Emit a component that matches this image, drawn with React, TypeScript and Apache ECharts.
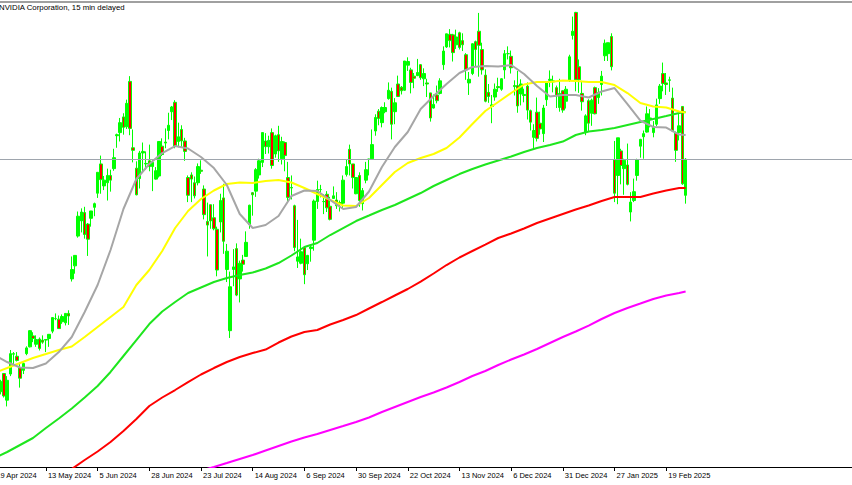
import React, { useEffect, useRef } from "react";
import * as echarts from "echarts";

// Trading days shown on the chart (month label, day numbers)
const tradingDays: [string, number[]][] = [
  ["Apr 2024", [19, 22, 23, 24, 25, 26, 29, 30]],
  ["May 2024", [1, 2, 3, 6, 7, 8, 9, 10, 13, 14, 15, 16, 17, 20, 21, 22, 23, 24, 28, 29, 30, 31]],
  ["Jun 2024", [3, 4, 5, 6, 7, 10, 11, 12, 13, 14, 17, 18, 20, 21, 24, 25, 26, 27, 28]],
  ["Jul 2024", [1, 2, 3, 5, 8, 9, 10, 11, 12, 15, 16, 17, 18, 19, 22, 23, 24, 25, 26, 29, 30, 31]],
  ["Aug 2024", [1, 2, 5, 6, 7, 8, 9, 12, 13, 14, 15, 16, 19, 20, 21, 22, 23, 26, 27, 28, 29, 30]],
  ["Sep 2024", [3, 4, 5, 6, 9, 10, 11, 12, 13, 16, 17, 18, 19, 20, 23, 24, 25, 26, 27, 30]],
  ["Oct 2024", [1, 2, 3, 4, 7, 8, 9, 10, 11, 14, 15, 16, 17, 18, 21, 22, 23, 24, 25, 28, 29, 30, 31]],
  ["Nov 2024", [1, 4, 5, 6, 7, 8, 11, 12, 13, 14, 15, 18, 19, 20, 21, 22, 25, 26, 27, 29]],
  ["Dec 2024", [2, 3, 4, 5, 6, 9, 10, 11, 12, 13, 16, 17, 18, 19, 20, 23, 24, 26, 27, 30, 31]],
  ["Jan 2025", [2, 3, 6, 7, 8, 10, 13, 14, 15, 16, 17, 21, 22, 23, 24, 27, 28, 29, 30, 31]],
  ["Feb 2025", [3, 4, 5, 6, 7, 10, 11, 12, 13, 14, 18, 19, 20, 24, 25, 26, 27, 28]],
];
const dates: string[] = tradingDays.flatMap(([m, days]) => days.map((d) => `${d} ${m}`));

// Daily bars: [open, high, low, close]
const ohlc: [number, number, number, number][] = [
  // Apr 2024
  [83.1, 84.3, 75.6, 76.2], [78.1, 80.1, 76.2, 79.5], [80.4, 82.7, 79.9, 82.4], [83.9, 84.0, 79.3, 79.6],
  [78.8, 83.4, 77.6, 82.6], [83.8, 88.4, 83.4, 87.7], [87.6, 88.0, 85.4, 87.7], [87.2, 88.0, 86.2, 86.4],
  // May 2024
  [85.0, 86.0, 81.2, 83.0], [84.5, 86.0, 83.8, 85.8], [87.7, 89.1, 87.4, 88.8], [89.0, 92.2, 88.9, 92.1],
  [91.1, 91.8, 89.9, 90.6], [89.5, 91.2, 89.0, 90.4], [90.5, 90.8, 88.3, 88.7], [90.3, 91.2, 89.6, 89.9],
  [90.4, 90.5, 88.0, 90.3], [90.6, 91.4, 89.0, 91.4], [92.0, 94.7, 91.6, 94.6], [94.4, 95.4, 94.1, 94.4],
  [94.3, 95.0, 92.5, 92.5], [93.8, 95.2, 93.4, 94.8], [93.6, 95.4, 93.1, 95.4], [95.4, 96.0, 93.2, 94.9],
  [102.0, 106.3, 101.5, 103.8], [104.5, 106.5, 103.0, 106.5], [110.2, 114.9, 109.9, 114.0], [113.1, 115.5, 110.9, 114.8],
  [114.7, 115.8, 109.7, 110.5], [112.5, 112.7, 106.4, 109.6],
  // Jun 2024
  [113.6, 115.0, 112.0, 115.0], [115.7, 116.6, 114.0, 116.4], [118.4, 122.4, 117.5, 122.4], [124.0, 125.6, 118.3, 121.0],
  [119.8, 121.7, 119.0, 120.9], [120.4, 123.1, 117.0, 121.8], [121.8, 122.9, 118.7, 120.9], [123.1, 126.9, 122.7, 125.2],
  [129.4, 129.8, 127.1, 129.6], [130.0, 132.8, 128.3, 131.9], [133.0, 133.7, 129.6, 131.0], [131.1, 136.3, 130.7, 135.6],
  [139.8, 140.8, 129.5, 130.8], [127.1, 130.6, 124.3, 126.6], [123.2, 124.5, 118.0, 118.1], [121.2, 126.5, 119.3, 126.1],
  [126.1, 128.1, 122.6, 126.4], [124.1, 126.4, 122.9, 124.0], [124.6, 127.7, 122.6, 123.5],
  // Jul 2024
  [123.5, 124.8, 118.8, 124.3], [121.1, 123.4, 121.0, 122.7], [121.7, 128.3, 121.4, 128.3], [127.4, 128.9, 125.5, 125.8],
  [128.0, 130.8, 127.0, 128.2], [130.4, 133.8, 128.7, 131.4], [134.0, 135.1, 132.4, 134.9], [135.8, 136.2, 127.0, 127.4],
  [128.3, 131.9, 127.2, 129.2], [130.6, 131.4, 127.2, 128.4], [128.4, 129.0, 124.6, 126.4], [121.4, 121.8, 116.7, 118.0],
  [121.9, 122.4, 116.7, 121.1], [120.4, 121.6, 117.4, 117.9], [120.4, 124.1, 119.9, 123.5], [122.8, 124.7, 122.1, 122.6],
  [119.2, 119.9, 113.4, 114.3], [113.0, 116.6, 106.3, 112.3], [116.2, 116.2, 111.6, 113.1], [113.7, 116.3, 111.3, 111.6],
  [111.5, 112.0, 102.5, 103.7], [112.9, 118.3, 110.9, 117.0],
  // Aug 2024
  [117.5, 120.2, 106.8, 109.2], [103.8, 108.7, 101.4, 107.3], [92.1, 103.4, 90.7, 100.5], [103.8, 107.7, 100.6, 104.3],
  [107.8, 108.8, 98.7, 98.9], [102.0, 105.5, 97.5, 105.0], [105.6, 106.6, 103.4, 104.8], [106.3, 111.1, 106.3, 109.0],
  [112.4, 116.2, 111.6, 116.1], [118.5, 118.6, 114.1, 118.1], [118.8, 123.2, 117.7, 122.9], [121.9, 125.0, 121.2, 124.6],
  [124.3, 130.0, 123.4, 130.0], [128.4, 129.9, 125.9, 127.3], [127.3, 129.4, 126.0, 128.5], [130.0, 130.8, 123.1, 123.7],
  [125.9, 129.6, 125.2, 129.4], [129.6, 131.3, 124.4, 126.5], [125.0, 129.2, 123.9, 128.3], [128.1, 128.3, 122.6, 125.6],
  [121.4, 124.4, 116.7, 117.6], [119.5, 121.8, 117.2, 119.4],
  // Sep 2024
  [116.0, 116.2, 107.3, 108.0], [105.4, 113.3, 104.1, 106.2], [105.0, 109.7, 104.8, 107.2], [108.0, 108.2, 101.0, 102.8],
  [104.9, 106.6, 103.7, 106.5], [107.8, 108.4, 105.3, 108.1], [109.4, 117.2, 107.4, 116.9], [116.8, 120.8, 115.4, 119.1],
  [119.1, 120.0, 117.6, 119.1], [116.8, 118.2, 114.4, 116.8], [118.2, 118.8, 114.8, 115.6], [115.9, 117.7, 113.2, 113.4],
  [117.4, 119.7, 117.3, 117.9], [117.1, 118.6, 115.4, 116.0], [116.6, 117.0, 114.9, 116.3], [116.5, 121.8, 115.4, 120.9],
  [122.0, 124.9, 121.6, 123.5], [126.8, 127.7, 121.8, 124.0], [124.0, 124.0, 119.3, 121.4], [118.3, 121.5, 118.2, 121.4],
  // Oct 2024
  [121.8, 122.4, 115.8, 117.0], [116.4, 119.4, 115.1, 118.9], [120.9, 124.4, 120.3, 122.9], [124.9, 125.0, 121.8, 124.9],
  [125.0, 130.6, 125.0, 127.7], [130.3, 133.5, 129.4, 132.9], [134.1, 134.5, 131.4, 132.7], [131.9, 135.0, 131.0, 134.8],
  [134.0, 135.8, 133.7, 134.8], [136.5, 139.6, 136.3, 138.1], [137.9, 138.6, 128.7, 131.6], [134.0, 136.6, 131.6, 135.7],
  [139.3, 140.9, 136.9, 136.9], [138.7, 138.9, 137.3, 138.0], [138.1, 143.7, 138.0, 143.7], [142.9, 144.4, 141.8, 143.6],
  [142.0, 142.4, 137.5, 139.6], [140.8, 141.4, 138.5, 140.4], [140.9, 144.1, 140.8, 141.5], [143.0, 143.1, 140.1, 140.5],
  [140.3, 142.3, 138.9, 141.3], [139.5, 140.3, 136.8, 139.3], [137.6, 137.6, 132.1, 132.8],
  // Nov 2024
  [134.7, 137.3, 134.6, 135.4], [137.2, 139.0, 135.6, 136.1], [137.5, 140.4, 137.3, 139.9], [143.0, 146.5, 142.0, 145.6],
  [146.4, 148.9, 146.2, 148.9], [148.8, 149.8, 146.3, 147.6], [148.7, 148.9, 143.6, 145.3], [146.8, 149.7, 146.0, 148.3],
  [149.1, 149.3, 145.9, 146.3], [147.6, 149.0, 145.6, 146.8], [144.9, 145.2, 140.1, 142.0], [139.5, 141.6, 137.2, 140.2],
  [141.3, 147.1, 141.0, 147.0], [147.4, 147.6, 142.7, 145.9], [149.4, 152.9, 140.7, 146.7], [145.9, 147.2, 141.1, 142.0],
  [141.0, 142.1, 135.8, 136.0], [137.7, 139.3, 135.7, 136.9], [135.0, 137.2, 131.8, 135.3], [136.8, 139.4, 136.1, 138.3],
  // Dec 2024
  [138.8, 140.5, 137.8, 138.6], [138.3, 140.4, 138.0, 140.3], [142.0, 145.8, 140.3, 145.1], [145.1, 146.5, 144.0, 145.1],
  [144.6, 145.7, 141.3, 142.4], [139.0, 140.0, 137.1, 138.8], [139.0, 141.8, 133.8, 135.1], [137.4, 140.2, 135.2, 139.3],
  [137.1, 138.4, 135.8, 137.3], [138.9, 139.6, 132.5, 134.3], [134.2, 134.4, 130.4, 132.0], [129.1, 131.6, 126.9, 130.4],
  [133.9, 136.7, 128.3, 128.9], [131.8, 134.0, 129.6, 130.7], [129.8, 135.3, 128.2, 134.7], [136.3, 139.8, 135.1, 139.7],
  [140.0, 141.9, 138.7, 140.2], [139.7, 140.9, 137.7, 139.9], [138.6, 139.0, 134.7, 137.0], [134.8, 140.3, 134.0, 137.5],
  [138.0, 138.1, 133.8, 134.3],
  // Jan 2025
  [136.0, 138.9, 134.6, 138.3], [140.0, 144.9, 139.7, 144.5], [148.6, 152.2, 147.8, 149.4], [153.0, 153.1, 137.9, 140.1],
  [142.6, 144.0, 137.6, 140.1], [137.5, 139.9, 134.2, 135.9], [130.0, 133.5, 129.5, 133.2], [136.1, 136.4, 130.1, 131.8],
  [133.7, 136.5, 131.3, 136.2], [138.6, 138.8, 133.5, 133.6], [136.7, 138.5, 135.5, 137.7], [139.2, 141.8, 137.1, 140.8],
  [144.7, 147.8, 143.7, 147.1], [145.1, 147.2, 143.7, 147.2], [148.4, 149.0, 141.9, 142.6], [124.8, 128.4, 116.7, 118.4],
  [121.8, 129.0, 116.3, 129.0], [126.5, 126.9, 120.1, 123.7], [123.1, 125.0, 118.1, 124.7], [123.8, 127.9, 119.9, 120.1],
  // Feb 2025
  [114.8, 118.6, 113.0, 116.7], [117.0, 121.2, 116.7, 118.7], [121.8, 125.0, 120.8, 124.8], [127.4, 128.8, 125.2, 128.7],
  [129.2, 130.4, 125.0, 129.8], [130.1, 135.0, 130.0, 133.6], [132.6, 134.5, 131.0, 132.8], [130.0, 132.2, 129.1, 131.1],
  [131.6, 136.5, 131.2, 135.3], [136.5, 139.3, 135.5, 138.9], [141.3, 143.4, 137.9, 139.4], [139.5, 141.4, 137.2, 139.2],
  [140.0, 140.7, 137.8, 140.1], [136.6, 138.6, 130.1, 130.3], [130.0, 130.2, 124.4, 126.6], [130.0, 133.7, 128.5, 131.3],
  [135.0, 135.0, 120.0, 120.2], [118.0, 125.1, 116.4, 124.9],
];

// Time-axis tick labels
const tickLabels = [
  "19 Apr 2024", "13 May 2024", "5 Jun 2024", "28 Jun 2024", "23 Jul 2024", "14 Aug 2024", "6 Sep 2024",
  "30 Sep 2024", "22 Oct 2024", "13 Nov 2024", "6 Dec 2024", "31 Dec 2024", "27 Jan 2025", "19 Feb 2025",
];

const maBars = [
  0, 4, 8, 12, 16, 20, 24, 28, 32, 36, 40, 44, 48, 52, 56, 60, 64, 68, 72, 76, 80, 84, 88, 92, 96, 100,
  104, 108, 112, 116, 120, 124, 128, 132, 136, 140, 144, 148, 152, 156, 160, 164, 168, 172, 176, 180,
  184, 188, 192, 196, 200, 204, 208, 212, 214,
];
const maGray = [
  87.44, 86.1, 85.05, 84.95, 85.81, 88.01, 90.89, 95.67, 100.84, 107.53, 115.38, 121.12, 123.99, 126.09,
  127.43, 126.95, 125.33, 123.22, 119.97, 114.42, 111.74, 112.32, 114.04, 117.87, 118.92, 118.82, 117.1,
  115.38, 115.76, 118.73, 123.41, 127.24, 130.11, 134.51, 137.0, 139.3, 141.4, 142.55, 142.74, 142.64,
  142.93, 141.21, 138.91, 136.9, 137.19, 137.19, 136.71, 137.86, 138.53, 135.47, 132.31, 131.07, 130.97,
  129.63, 129.54,
];
const maYellow = [
  84.0, 84.95, 85.91, 86.87, 87.63, 88.4, 89.07, 90.89, 92.8, 94.71, 96.63, 100.84, 103.71, 107.34, 111.74,
  115.0, 117.29, 118.92, 120.16, 120.45, 120.35, 120.74, 120.93, 120.45, 119.4, 118.25, 117.1, 116.05,
  115.95, 117.48, 119.97, 122.46, 124.18, 125.14, 125.9, 127.05, 129.06, 131.64, 134.13, 135.85, 137.57,
  139.2, 139.68, 139.68, 139.97, 139.87, 139.68, 139.68, 139.1, 137.57, 135.66, 134.99, 134.8, 134.03, 133.84,
];
const maGreen = [
  67.73, 68.88, 70.22, 71.56, 73.47, 75.29, 77.2, 79.31, 81.51, 84.19, 87.25, 90.31, 93.37, 95.76, 97.58,
  99.3, 100.36, 101.41, 102.17, 102.75, 103.23, 103.99, 105.04, 106.48, 108.11, 108.87, 110.4, 111.74,
  113.08, 114.13, 115.19, 116.14, 117.29, 118.44, 119.78, 120.93, 122.07, 123.03, 123.89, 124.66, 125.42,
  126.28, 127.05, 127.62, 128.29, 129.54, 130.21, 130.49, 130.88, 131.45, 132.02, 132.6, 133.17, 133.75, 133.94,
];
const maRed: (number | null)[] = [
  null, null, null, null, null, null, 65.63, 67.35, 68.97, 70.79, 72.9, 75.19, 77.68, 79.31, 80.74, 82.27,
  83.71, 84.95, 86.1, 87.06, 87.82, 88.49, 89.83, 90.98, 91.84, 92.22, 93.28, 94.14, 95.09, 96.34, 97.58,
  98.83, 100.07, 101.5, 103.04, 104.66, 106.1, 107.34, 108.58, 109.83, 110.69, 111.65, 112.7, 113.56,
  114.42, 115.28, 116.05, 116.91, 117.67, 117.67, 117.67, 118.34, 118.92, 119.4, 119.4,
];
const maMagenta: (number | null)[] = [
  null, null, null, null, null, null, null, null, null, null, null, null, null, null, null, null,
  65.32, 66.01, 66.77, 67.54, 68.3, 69.17, 70.03, 70.89, 71.65, 72.32, 73.09, 73.85, 74.62, 75.48, 76.53,
  77.49, 78.45, 79.4, 80.26, 81.22, 82.27, 83.42, 84.38, 85.53, 86.58, 87.54, 88.59, 89.74, 90.88, 91.94,
  93.08, 94.33, 95.48, 96.43, 97.29, 98.16, 98.82, 99.3, 99.59,
];

const TITLE = "NVIDIA Corporation, 15 min delayed";
const FONT = '"Liberation Sans", Arial, sans-serif';

export default function App() {
  const ref = useRef<HTMLDivElement>(null);

  useEffect(() => {
    if (!ref.current) return;
    const chart = echarts.init(ref.current, null, { renderer: "svg" });
    const tickSet = new Set(tickLabels.map((t) => dates.indexOf(t)));
    const showTick = (i: number) => tickSet.has(i);
    const lastClose = ohlc[ohlc.length - 1][3];

    const maLine = (name: string, values: (number | null)[], color: string, width: number, z: number) => ({
      type: "line",
      name,
      data: maBars
        .map((b, k) => (values[k] == null ? null : [b, values[k]]))
        .filter((d) => d !== null),
      symbol: "none",
      showSymbol: false,
      silent: true,
      clip: true,
      z,
      lineStyle: { color, width },
      itemStyle: { color },
      emphasis: { disabled: true },
    });

    chart.setOption({
      animation: false,
      backgroundColor: "#ffffff",
      grid: {
        left: -7.4,
        right: 0,
        top: 2,
        bottom: 18,
        containLabel: false,
        outerBoundsMode: "none",
      },
      xAxis: {
        type: "category",
        data: dates,
        max: 265,
        boundaryGap: true,
        axisLine: { show: true, lineStyle: { color: "#000000", width: 1 } },
        axisTick: {
          show: true,
          alignWithLabel: true,
          interval: showTick,
          length: 4,
          lineStyle: { color: "#000000", width: 1 },
        },
        axisLabel: {
          show: true,
          interval: showTick,
          align: "left",
          verticalAlign: "middle",
          margin: 8,
          padding: [0, 0, 0, 2],
          color: "#000000",
          fontSize: 7.5,
          fontFamily: FONT,
        },
        splitLine: { show: false },
      },
      yAxis: {
        type: "value",
        min: 66.01,
        max: 154.99,
        show: false,
        splitLine: { show: false },
      },
      series: [
        {
          type: "candlestick",
          name: "NVDA",
          data: ohlc.map(([o, h, l, c]) => [o, c, l, h]),
          barWidth: 3,
          z: 2,
          silent: true,
          itemStyle: {
            color: "#00ff00",
            color0: "#ff0000",
            borderColor: "#00ff00",
            borderColor0: "#00ff00",
            borderColorDoji: "#00ff00",
            borderWidth: 1,
          },
          emphasis: { disabled: true },
          markLine: {
            silent: true,
            symbol: ["none", "none"],
            label: { show: false },
            lineStyle: { color: "#9ea5ad", width: 1, type: "solid" },
            data: [{ yAxis: lastClose }],
          },
        },
        maLine("MA magenta", maMagenta, "#ff00ff", 2, 3),
        maLine("MA red", maRed, "#ff0000", 2, 3),
        maLine("MA green", maGreen, "#1ee61e", 2, 3),
        maLine("MA yellow", maYellow, "#ffff00", 2, 4),
        maLine("MA gray", maGray, "#a6a6a6", 2, 5),
      ],
      graphic: [
        {
          type: "rect",
          shape: { x: 0, y: 1, width: 852, height: 2 },
          style: { fill: "#a0a0a0" },
          z: 100,
          silent: true,
        },
        {
          type: "text",
          x: -1,
          y: 7.3,
          z: 100,
          silent: true,
          style: {
            text: TITLE,
            fill: "#000000",
            fontSize: 7.8,
            fontFamily: FONT,
            align: "left",
            verticalAlign: "middle",
          },
        },
      ],
    });

    return () => chart.dispose();
  }, []);

  return (
    <div
      ref={ref}
      style={{ position: "fixed", left: 0, top: 0, width: 852, height: 485, background: "#ffffff" }}
    />
  );
}
